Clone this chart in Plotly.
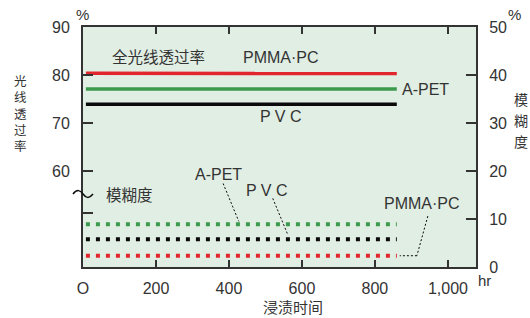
import plotly.graph_objects as go

# ---- data ----
hours = [8, 860]
# total light transmittance (%), left axis
trans_pmma_pc = [80.35, 80.3]
trans_apet = [77.1, 77.1]
trans_pvc = [73.9, 73.9]
# haze (%), right axis
haze_apet = [8.9, 8.9]
haze_pvc = [5.8, 5.8]
haze_pmma_pc = [2.35, 2.35]

x_tickvals = [0, 200, 400, 600, 800, 1000]
x_ticktext = ["O", "200", "400", "600", "800", "1,000"]
left_tickvals = [51.2, 60, 70, 80, 90]
left_ticktext = ["", "60", "70", "80", "90"]
right_tickvals = [0, 10, 20, 30, 40, 50]
right_ticktext = ["0", "10", "20", "30", "40", "50"]

RED = "#e1272d"
GREEN = "#3b9a4c"
BLACK = "#0a0a0a"
TXT = "#333333"
AX = "#333333"
FONT = "Liberation Sans, Arial, Noto Sans CJK SC, sans-serif"

W, H = 530, 318
L, R, T, B = 83, 476, 27, 267

fig = go.Figure()
for y, c in [(trans_pmma_pc, RED), (trans_apet, GREEN), (trans_pvc, BLACK)]:
    fig.add_trace(go.Scatter(x=hours, y=y, mode="lines", yaxis="y",
                             line=dict(color=c, width=3.5), hoverinfo="skip"))
for y, c in [(haze_apet, GREEN), (haze_pvc, BLACK), (haze_pmma_pc, RED)]:
    fig.add_trace(go.Scatter(x=hours, y=y, mode="lines", yaxis="y2",
                             line=dict(color=c, width=4, dash="4px,6px"), hoverinfo="skip"))

fig.update_layout(
    width=W, height=H,
    margin=dict(l=L, r=W - R, t=T, b=H - B),
    plot_bgcolor="#e1eee3", paper_bgcolor="white",
    showlegend=False,
    font=dict(family=FONT, size=15, color=TXT),
    xaxis=dict(range=[0, 1077], tickvals=x_tickvals, ticktext=x_ticktext,
               ticks="inside", ticklen=7, tickwidth=1.5, tickcolor=AX,
               showline=True, linecolor=AX, linewidth=2, mirror="ticks",
               showgrid=False, zeroline=False, ticklabelstandoff=6,
               tickfont=dict(size=16, color=TXT)),
    yaxis=dict(range=[40, 90], tickvals=left_tickvals, ticktext=left_ticktext,
               ticks="inside", ticklen=10, tickwidth=1.5, tickcolor=AX,
               showline=True, linecolor=AX, linewidth=2,
               showgrid=False, zeroline=False, ticklabelstandoff=8,
               tickfont=dict(size=16, color=TXT)),
    yaxis2=dict(range=[0, 50], tickvals=right_tickvals, ticktext=right_ticktext,
                overlaying="y", side="right",
                ticks="inside", ticklen=10, tickwidth=1.5, tickcolor=AX,
                showline=True, linecolor=AX, linewidth=2,
                showgrid=False, zeroline=False, ticklabelstandoff=8,
                tickfont=dict(size=16, color=TXT)),
)

ann = []
def P(text, x, y, size=16):
    ann.append(dict(text=text, x=(x - L) / (R - L), y=(B - y) / (B - T),
                    xref="paper", yref="paper", showarrow=False,
                    xanchor="center", yanchor="middle",
                    font=dict(size=size, color=TXT, family=FONT)))

P("%", 82, 15, 15)
P("%", 514, 15, 15)
P("hr", 484, 280, 15)
P("浸渍时间", 293, 307, 15)
P("<br>".join("光线透过率"), 20, 114, 12.5)
for i, ch in enumerate("模糊度"):
    P(ch, 521, 100 + i * 21, 14)
P("全光线透过率", 158, 57, 15.5)
P("PMMA·PC", 281, 57, 16)
P("A-PET", 425, 90, 16)
P("P V C", 281, 116, 16)
P("模糊度", 129, 195, 15.5)
P("A-PET", 218, 174, 16)
P("P V C", 267, 190, 16)
P("PMMA·PC", 422, 203, 16)

shapes = []
# leader lines
for pts in [[(384, 17.4), (427, 9.5)],
            [(520, 14.3), (562, 6.6)],
            [(945, 10.6), (915, 2.35), (868, 2.35)]]:
    for (x0, y0), (x1, y1) in zip(pts[:-1], pts[1:]):
        shapes.append(dict(type="line", xref="x", yref="y2", x0=x0, y0=y0, x1=x1, y1=y1,
                           line=dict(color=BLACK, width=1, dash="2px,2px")))
# axis break mark
def pp(x, y):
    return (x - L) / (R - L), (B - y) / (B - T)
p0 = pp(73, 194); c1 = pp(77, 189); c2 = pp(80, 190); m = pp(83, 194)
c3 = pp(86, 198); c4 = pp(89, 199); p1 = pp(93, 194)
path = "M %f,%f C %f,%f %f,%f %f,%f C %f,%f %f,%f %f,%f" % (p0 + c1 + c2 + m + c3 + c4 + p1)
shapes.append(dict(type="path", xref="paper", yref="paper", path=path,
                   line=dict(color=BLACK, width=1.5)))

fig.update_layout(annotations=ann, shapes=shapes)
fig.write_html("out.html", config={"displayModeBar": False},
               post_script="document.body.style.margin='0';document.body.style.padding='0';")
